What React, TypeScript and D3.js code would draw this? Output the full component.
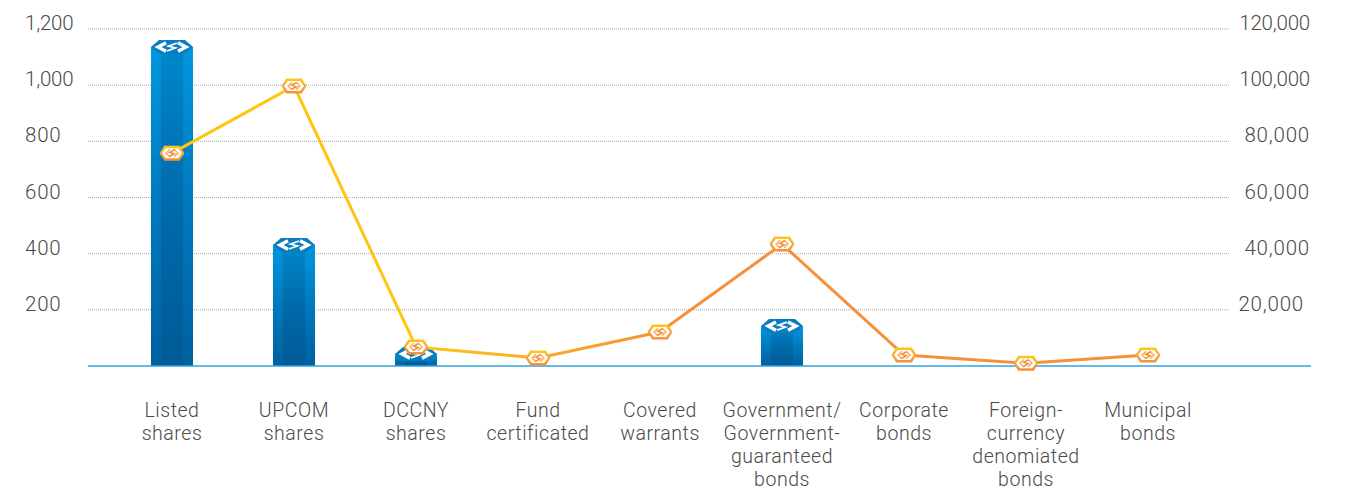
import React from "react";
import * as d3 from "d3";

const categories = [
  ["Listed", "shares"],
  ["UPCOM", "shares"],
  ["DCCNY", "shares"],
  ["Fund", "certificated"],
  ["Covered", "warrants"],
  ["Government/", "Government-", "guaranteed", "bonds"],
  ["Corporate", "bonds"],
  ["Foreign-", "currency", "denomiated", "bonds"],
  ["Municipal", "bonds"],
];
const barValues = [1136, 431, 43, 0, 0, 142, 0, 0, 0];
const lineValues = [75800, 99700, 6800, 2850, 12100, 43400, 3900, 1000, 3900];
const leftTicks = [200, 400, 600, 800, 1000, 1200];
const rightTicks = [20000, 40000, 60000, 80000, 100000, 120000];

const W = 1345, H = 491;
const FONT = "Roboto, sans-serif";
const x = d3.scaleBand<number>().domain(d3.range(9)).range([111, 1209]);
const cx = (i: number) => x(i)! + x.bandwidth() / 2;
const yL = d3.scaleLinear().domain([0, 1200]).range([366, 29]);
const yR = d3.scaleLinear().domain([0, 120000]).range([366, 29]);
const fmt = d3.format(",");
const tickSpacing = (s: string) => (s.includes("1") ? -0.2 : 0.8);

const hex = (w: number, h: number) => {
  const a = w / 2, b = h / 2, c = a * 0.62;
  return `M${-a},0L${-c},${-b}L${c},${-b}L${a},0L${c},${b}L${-c},${b}Z`;
};

const lineGen = d3
  .line<number>()
  .x((_, i) => cx(i))
  .y((d) => yR(d));

function Marker({ px, py }: { px: number; py: number }) {
  return (
    <g transform={`translate(${px},${py})`}>
      <path d={hex(25, 15)} fill="url(#markerRim)" />
      <path d={hex(20, 10)} fill="#fff" />
      <path
        d="M-2,-3.8L-6,0L-2,3.8M2,-3.8L6,0L2,3.8"
        fill="none"
        stroke="#F9A84A"
        strokeWidth={1.3}
      />
      <path d="M3,-3.6L-2.2,-0.8L2.2,0.8L-3,3.6" fill="none" stroke="#F68F33" strokeWidth={1.6} />
    </g>
  );
}

function Bar({ i, v }: { i: number; v: number }) {
  const c = cx(i);
  const top = yL(v);
  const base = yL(0);
  return (
    <g>
      <rect x={c - 21} y={top} width={42} height={base - top} fill="url(#barSide)" />
      <rect x={c - 11} y={top} width={22} height={base - top} fill="url(#barMid)" />
      <g transform={`translate(${c},${top})`}>
        <path d={hex(42, 14)} fill="#0A7DC0" />
        <path
          d="M-6,-4.2L-14,0L-6,4.2M6,-4.2L14,0L6,4.2"
          fill="none"
          stroke="#fff"
          strokeWidth={3.4}
        />
        <path d="M5,-4L-3.5,-0.9L3.5,0.9L-5,4" fill="none" stroke="#fff" strokeWidth={1.7} />
      </g>
    </g>
  );
}

export default function App() {
  return (
    <svg
      width={W}
      height={H}
      style={{ position: "absolute", left: 0, top: 0, background: "#fff" }}
      fontFamily={FONT}
    >
      <defs>
        <linearGradient id="barSide" x1="0" y1="0" x2="0" y2="1">
          <stop offset="0" stopColor="#0097DE" />
          <stop offset="0.5" stopColor="#0079BE" />
          <stop offset="1" stopColor="#00609F" />
        </linearGradient>
        <linearGradient id="barMid" x1="0" y1="0" x2="0" y2="1">
          <stop offset="0" stopColor="#0087CB" />
          <stop offset="0.5" stopColor="#006AAB" />
          <stop offset="1" stopColor="#005A96" />
        </linearGradient>
        <linearGradient id="markerRim" x1="0" y1="0" x2="0" y2="1">
          <stop offset="0" stopColor="#FFC91A" />
          <stop offset="0.5" stopColor="#F9A433" />
          <stop offset="1" stopColor="#F58F3C" />
        </linearGradient>
        <linearGradient
          id="lineGrad"
          gradientUnits="userSpaceOnUse"
          x1={cx(2)}
          y1={0}
          x2={cx(4)}
          y2={0}
        >
          <stop offset="0" stopColor="#FFC515" />
          <stop offset="1" stopColor="#F6913B" />
        </linearGradient>
      </defs>

      {leftTicks.map((t) => (
        <line
          key={t}
          x1={88}
          x2={1230}
          y1={yL(t)}
          y2={yL(t)}
          stroke="#A8A8A8"
          strokeWidth={1}
          strokeDasharray="1 1"
        />
      ))}
      {leftTicks.map((t) => (
        <text key={t} x={25} y={yL(t) + 1} fontSize={20.5} letterSpacing={tickSpacing(fmt(t))} fontWeight={300} fill="#4a4a4a">
          {fmt(t)}
        </text>
      ))}
      {rightTicks.map((t) => (
        <text
          key={t}
          x={t === 20000 ? 1304 : 1310}
          y={yR(t) + 1}
          textAnchor="end"
          fontSize={20.5}
          letterSpacing={tickSpacing(fmt(t))}
          fontWeight={300}
          fill="#4a4a4a"
        >
          {fmt(t)}
        </text>
      ))}

      {barValues.map((v, i) => (v > 0 ? <Bar key={i} i={i} v={v} /> : null))}

      <line x1={88} x2={1311} y1={yL(0)} y2={yL(0)} stroke="#2FA3DE" strokeWidth={1.5} />

      <path
        d={lineGen(lineValues) ?? ""}
        fill="none"
        stroke="url(#lineGrad)"
        strokeWidth={3}
        strokeLinejoin="round"
      />
      {lineValues.map((v, i) => (
        <Marker key={i} px={cx(i)} py={yR(v)} />
      ))}

      {categories.map((lines, i) => (
        <text key={i} textAnchor="middle" fontSize={19.5} letterSpacing={0.55} fontWeight={300} fill="#4a4a4a">
          {lines.map((l, j) => (
            <tspan key={j} x={cx(i)} y={416.5 + j * 23.2}>
              {l}
            </tspan>
          ))}
        </text>
      ))}
    </svg>
  );
}
